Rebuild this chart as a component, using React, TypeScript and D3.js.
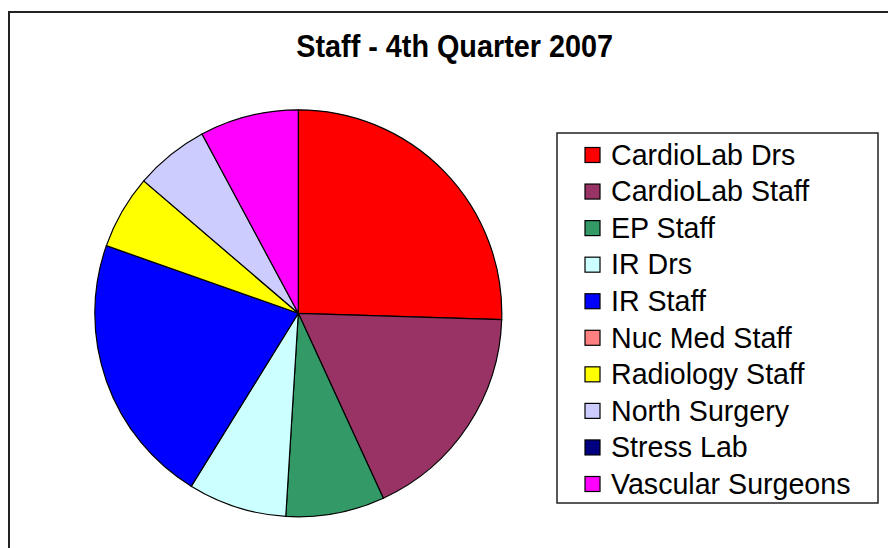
import React from "react";
import * as d3 from "d3";

const categories = [
  "CardioLab Drs",
  "CardioLab Staff",
  "EP Staff",
  "IR Drs",
  "IR Staff",
  "Nuc Med Staff",
  "Radiology Staff",
  "North Surgery",
  "Stress Lab",
  "Vascular Surgeons",
];
const values = [13, 9, 4, 4, 11, 0, 3, 3, 0, 4];
const colors = [
  "#FF0000",
  "#993366",
  "#339966",
  "#CCFFFF",
  "#0000FF",
  "#FF8080",
  "#FFFF00",
  "#CCCCFF",
  "#000080",
  "#FF00FF",
];
const title = "Staff - 4th Quarter 2007";

export default function App() {
  const W = 888;
  const H = 548;
  const cx = 298.3;
  const cy = 313.3;
  const r = 203.5;
  const data = categories.map((c, i) => ({ c, v: values[i], col: colors[i] }));
  const pie = d3.pie<any>().value((d) => d.v).sort(null);
  const arcs = pie(data);
  const arc = d3.arc<any>().innerRadius(0).outerRadius(r);
  const rowY = d3.scaleLinear().domain([0, categories.length - 1]).range([155, 484]);
  const font = "'Liberation Sans', Arial, sans-serif";
  return (
    <svg
      width={W}
      height={H}
      style={{ position: "absolute", left: 0, top: 0, background: "#fff" }}
    >
      <rect x={0} y={0} width={W} height={H} fill="#fff" />
      <rect x={9} y={12} width={W + 20} height={H + 20} fill="#fff" stroke="#222" strokeWidth={2} />
      <g transform="translate(454.6,56.7) scale(1,1.06)">
        <text
          x={0}
          y={0}
          textAnchor="middle"
          fontFamily={font}
          fontWeight="bold"
          fontSize={28.8}
          fill="#000"
        >
          {title}
        </text>
      </g>
      <g transform={`translate(${cx},${cy})`}>
        {arcs.map((a, i) =>
          a.data.v > 0 ? (
            <path key={i} d={arc(a) || ""} fill={a.data.col} stroke="#000" strokeWidth={1.2} />
          ) : null
        )}
      </g>
      <rect x={557} y={133} width={321} height={370} fill="#fff" stroke="#222" strokeWidth={1.5} />
      {data.map((d, i) => (
        <g key={i}>
          <rect
            x={585}
            y={rowY(i) - 7.5}
            width={15}
            height={15}
            fill={d.col}
            stroke="#000"
            strokeWidth={1.2}
          />
          <text x={611} y={rowY(i) + 9.8} fontFamily={font} fontSize={28.6} fill="#000">
            {d.c}
          </text>
        </g>
      ))}
    </svg>
  );
}
